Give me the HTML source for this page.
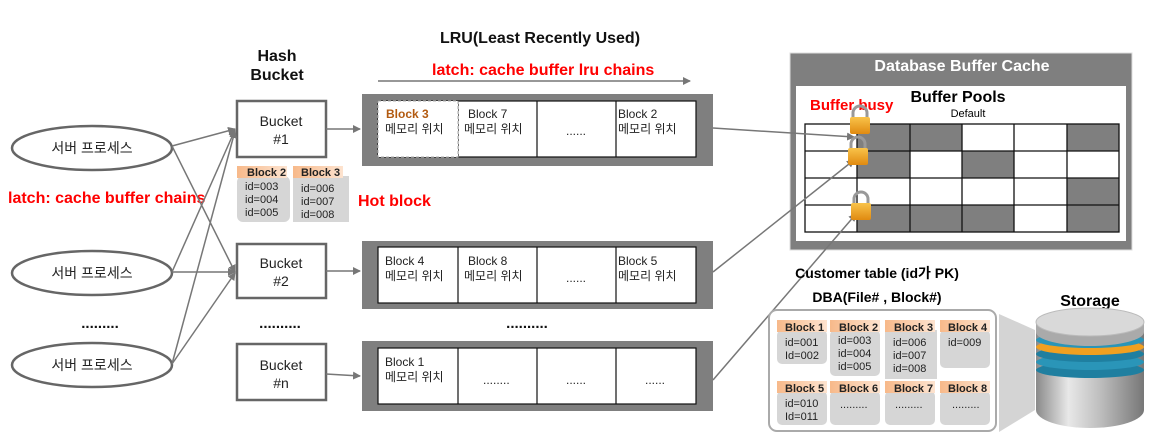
<!DOCTYPE html><html><head><meta charset="utf-8"><style>
body{margin:0;background:#fff}
svg{display:block;font-family:"Liberation Sans","Noto Sans CJK KR",sans-serif}
.k{font-family:"Liberation Sans","Noto Sans CJK KR",sans-serif}
</style></head><body>
<svg width="1157" height="442" viewBox="0 0 1157 442" xmlns="http://www.w3.org/2000/svg">
<defs>
<marker id="a" markerWidth="8" markerHeight="8" refX="7" refY="4" orient="auto" markerUnits="userSpaceOnUse"><path d="M0,0 L8,4 L0,8 z" fill="#777"/></marker>
<linearGradient id="hd" x1="0" y1="0" x2="1" y2="0"><stop offset="0" stop-color="#f7b98a"/><stop offset="1" stop-color="#fde3cf"/></linearGradient>
<linearGradient id="cyl" x1="0" y1="0" x2="1" y2="0"><stop offset="0" stop-color="#8a8a8a"/><stop offset=".3" stop-color="#e8e8e8"/><stop offset=".6" stop-color="#bdbdbd"/><stop offset="1" stop-color="#777"/></linearGradient>
<linearGradient id="lk" x1="0" y1="0" x2="0" y2="1"><stop offset="0" stop-color="#f9c34a"/><stop offset="1" stop-color="#e08a10"/></linearGradient>
</defs>
<g fill="none" stroke="#666" stroke-width="2.5">
<ellipse cx="92" cy="148" rx="80" ry="22"/><ellipse cx="92" cy="273" rx="80" ry="22"/><ellipse cx="92" cy="365" rx="80" ry="22"/>
<rect x="237" y="101" width="89" height="56"/><rect x="237" y="244" width="89" height="54"/><rect x="237" y="344" width="89" height="56"/>
</g>
<g font-size="14" text-anchor="middle" fill="#222" class="k">
<text x="92" y="153">서버 프로세스</text><text x="92" y="278">서버 프로세스</text><text x="92" y="370">서버 프로세스</text>
<text x="281" y="126">Bucket</text><text x="281" y="144">#1</text>
<text x="281" y="268">Bucket</text><text x="281" y="286">#2</text>
<text x="281" y="370">Bucket</text><text x="281" y="388">#n</text>
</g>
<g font-size="15" font-weight="bold" fill="#111" text-anchor="middle">
<text x="100" y="328">.........</text><text x="280" y="328">..........</text><text x="527" y="328">..........</text>
<text x="277" y="61" font-size="16">Hash</text><text x="277" y="80" font-size="16">Bucket</text>
<text x="540" y="43" font-size="16">LRU(Least Recently Used)</text>
</g>
<g font-weight="bold" fill="#f00" font-size="16">
<text x="432" y="75">latch: cache buffer lru chains</text>
<text x="8" y="203">latch: cache buffer chains</text>
<text x="358" y="206">Hot block</text>
</g>
<line x1="378" y1="81" x2="690" y2="81" stroke="#777" stroke-width="1.5" marker-end="url(#a)"/>
<g stroke="#777" stroke-width="1.5" marker-end="url(#a)">
<line x1="172" y1="146" x2="235" y2="129"/>
<line x1="172" y1="146" x2="235" y2="272"/>
<line x1="172" y1="272" x2="235" y2="130"/>
<line x1="172" y1="272" x2="235" y2="272"/>
<line x1="172" y1="364" x2="235" y2="131"/>
<line x1="172" y1="364" x2="235" y2="273"/>
<line x1="326" y1="129" x2="360" y2="129"/>
<line x1="326" y1="271" x2="360" y2="271"/>
<line x1="326" y1="374" x2="360" y2="376"/>
</g>
<!-- LRU rows -->
<rect x="362" y="94" width="351" height="72" fill="#7f7f7f"/><rect x="378" y="101" width="318" height="56" fill="#fff" stroke="#111" stroke-width="1.2"/>
<rect x="362" y="241" width="351" height="68" fill="#7f7f7f"/><rect x="378" y="247" width="318" height="56" fill="#fff" stroke="#111" stroke-width="1.2"/>
<rect x="362" y="341" width="351" height="70" fill="#7f7f7f"/><rect x="378" y="348" width="318" height="56" fill="#fff" stroke="#111" stroke-width="1.2"/>
<g stroke="#111" stroke-width="1.2">
<line x1="458" y1="101" x2="458" y2="157"/><line x1="537" y1="101" x2="537" y2="157"/><line x1="616" y1="101" x2="616" y2="157"/>
<line x1="458" y1="247" x2="458" y2="303"/><line x1="537" y1="247" x2="537" y2="303"/><line x1="616" y1="247" x2="616" y2="303"/>
<line x1="458" y1="348" x2="458" y2="404"/><line x1="537" y1="348" x2="537" y2="404"/><line x1="616" y1="348" x2="616" y2="404"/>
</g>
<rect x="378" y="101" width="80" height="56" fill="#fff" stroke="#aaa" stroke-dasharray="3,2"/>
<g font-size="12" fill="#222" class="k">
<text x="386" y="118" fill="#b25a10" font-weight="bold">Block 3</text><text x="385" y="133">메모리 위치</text>
<text x="468" y="118">Block 7</text><text x="464" y="133">메모리 위치</text>
<text x="566" y="135">......</text>
<text x="618" y="118">Block 2</text><text x="618" y="133">메모리 위치</text>
<text x="385" y="265">Block 4</text><text x="385" y="280">메모리 위치</text>
<text x="468" y="265">Block 8</text><text x="464" y="280">메모리 위치</text>
<text x="566" y="282">......</text>
<text x="618" y="265">Block 5</text><text x="618" y="280">메모리 위치</text>
<text x="385" y="366">Block 1</text><text x="385" y="381">메모리 위치</text>
<text x="483" y="384">........</text><text x="566" y="384">......</text><text x="645" y="384">......</text>
</g>
<!-- hash cards -->
<rect x="237" y="176" width="53" height="46" rx="6" fill="#d6d6d6"/>
<rect x="293" y="176" width="56" height="46" fill="#d6d6d6"/>
<rect x="237" y="166" width="50" height="12" fill="url(#hd)"/><rect x="293" y="166" width="50" height="12" fill="url(#hd)"/>
<g font-size="11" fill="#222">
<text x="247" y="176" font-weight="bold">Block 2</text><text x="301" y="176" font-weight="bold">Block 3</text>
<text x="245" y="190">id=003</text><text x="245" y="203">id=004</text><text x="245" y="216">id=005</text>
<text x="301" y="192">id=006</text><text x="301" y="205">id=007</text><text x="301" y="218">id=008</text>
</g>
<!-- DB buffer cache -->
<rect x="790" y="53" width="342" height="197" fill="#7f7f7f" stroke="#ddd"/>
<rect x="796" y="86" width="330" height="155" fill="#fff"/>
<text x="962" y="71" font-size="16" font-weight="bold" fill="#fff" text-anchor="middle">Database Buffer Cache</text>
<text x="958" y="102" font-size="16" font-weight="bold" text-anchor="middle">Buffer Pools</text>
<text x="968" y="117" font-size="11" text-anchor="middle">Default</text>
<g fill="#7f7f7f">
<rect x="857" y="124" width="105" height="27"/><rect x="1067" y="124" width="52" height="27"/>
<rect x="857" y="151" width="53" height="27"/><rect x="962" y="151" width="52" height="27"/>
<rect x="1067" y="178" width="52" height="27"/>
<rect x="857" y="205" width="157" height="27"/><rect x="1067" y="205" width="52" height="27"/>
</g>
<g stroke="#111" stroke-width="1.3" fill="none">
<rect x="805" y="124" width="314" height="108"/>
<line x1="805" y1="151" x2="1119" y2="151"/><line x1="805" y1="178" x2="1119" y2="178"/><line x1="805" y1="205" x2="1119" y2="205"/>
<line x1="857" y1="124" x2="857" y2="232"/><line x1="910" y1="124" x2="910" y2="232"/><line x1="962" y1="124" x2="962" y2="232"/><line x1="1014" y1="124" x2="1014" y2="232"/><line x1="1067" y1="124" x2="1067" y2="232"/>
</g>
<text x="810" y="110" font-size="15" font-weight="bold" fill="#f00">Buffer busy</text>
<g stroke="#777" stroke-width="1.5" marker-end="url(#a)">
<line x1="713" y1="128" x2="854" y2="137"/>
<line x1="713" y1="272" x2="854" y2="160"/>
<line x1="713" y1="380" x2="856" y2="214"/>
</g>
<g>
<g transform="translate(860,120)"><path d="M-7,-2 v-5 a7,7 0 0 1 14,0 v5" fill="none" stroke="#999" stroke-width="3"/><rect x="-10" y="-3" width="20" height="17" rx="2" fill="url(#lk)"/></g>
<g transform="translate(858,151)"><path d="M-7,-2 v-5 a7,7 0 0 1 14,0 v5" fill="none" stroke="#999" stroke-width="3"/><rect x="-10" y="-3" width="20" height="17" rx="2" fill="url(#lk)"/></g>
<g transform="translate(861,206)"><path d="M-7,-2 v-5 a7,7 0 0 1 14,0 v5" fill="none" stroke="#999" stroke-width="3"/><rect x="-10" y="-3" width="20" height="17" rx="2" fill="url(#lk)"/></g>
</g>
<!-- customer table -->
<text x="877" y="278" font-size="14" font-weight="bold" text-anchor="middle">Customer table (id가 PK)</text>
<text x="877" y="302" font-size="14" font-weight="bold" text-anchor="middle">DBA(File# , Block#)</text>
<polygon points="999,314 1035,330 1035,410 999,432" fill="#d4d4d4"/>
<rect x="769" y="310" width="227" height="121" rx="8" fill="#fff" stroke="#aaa" stroke-width="2"/>
<g fill="#d6d6d6">
<rect x="777" y="330" width="50" height="34" rx="5"/><rect x="830" y="330" width="50" height="46" rx="5"/><rect x="885" y="330" width="52" height="49"/><rect x="940" y="330" width="50" height="38" rx="5"/>
<rect x="777" y="391" width="50" height="34" rx="5"/><rect x="830" y="391" width="50" height="34" rx="5"/><rect x="885" y="391" width="50" height="34" rx="5"/><rect x="940" y="391" width="50" height="34" rx="5"/>
</g>
<g fill="url(#hd)">
<rect x="777" y="320" width="50" height="12"/><rect x="830" y="320" width="50" height="12"/><rect x="885" y="320" width="50" height="12"/><rect x="940" y="320" width="50" height="12"/>
<rect x="777" y="381" width="50" height="12"/><rect x="830" y="381" width="50" height="12"/><rect x="885" y="381" width="50" height="12"/><rect x="940" y="381" width="50" height="12"/>
</g>
<g font-size="11" fill="#222">
<g font-weight="bold"><text x="785" y="331">Block 1</text><text x="839" y="331">Block 2</text><text x="894" y="331">Block 3</text><text x="948" y="331">Block 4</text>
<text x="785" y="392">Block 5</text><text x="839" y="392">Block 6</text><text x="894" y="392">Block 7</text><text x="948" y="392">Block 8</text></g>
<text x="785" y="346">id=001</text><text x="785" y="359">Id=002</text>
<text x="838" y="344">id=003</text><text x="838" y="357">id=004</text><text x="838" y="370">id=005</text>
<text x="893" y="346">id=006</text><text x="893" y="359">id=007</text><text x="893" y="372">id=008</text>
<text x="948" y="346">id=009</text>
<text x="785" y="407">id=010</text><text x="785" y="420">Id=011</text>
<text x="840" y="408">.........</text><text x="895" y="408">.........</text><text x="952" y="408">.........</text>
</g>
<!-- storage -->
<text x="1090" y="306" font-size="16" font-weight="bold" text-anchor="middle">Storage</text>
<path d="M1036,330 v80 a54,18 0 0 0 108,0 v-80 z" fill="url(#cyl)"/>
<ellipse cx="1090" cy="370" rx="54" ry="8" fill="#1f7fa0"/>
<ellipse cx="1090" cy="362" rx="54" ry="8" fill="#2a95b8"/>
<ellipse cx="1090" cy="354" rx="54" ry="8" fill="#1f7fa0"/>
<ellipse cx="1090" cy="347" rx="54" ry="8" fill="#f0a020"/>
<ellipse cx="1090" cy="340" rx="54" ry="8" fill="#2a95b8"/>
<path d="M1036,322 v10 a54,14 0 0 0 108,0 v-10 z" fill="#aaa"/>
<ellipse cx="1090" cy="322" rx="54" ry="14" fill="#d9d9d9" stroke="#bbb"/>
</svg>
</body></html>
